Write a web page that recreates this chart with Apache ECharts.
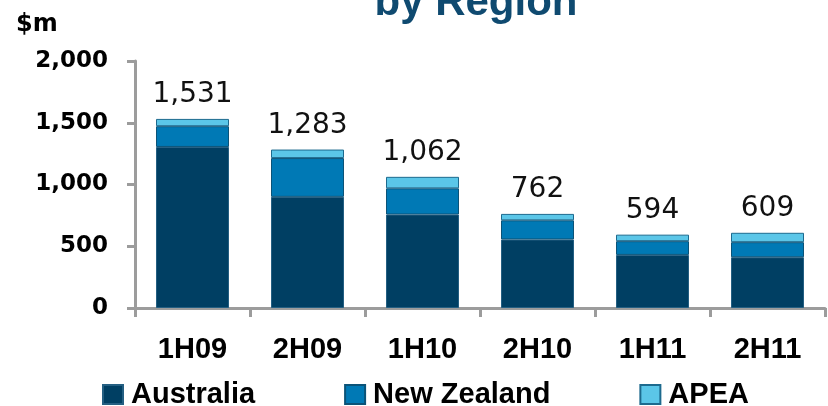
<!DOCTYPE html>
<html>
<head>
<meta charset="utf-8">
<script src="https://cdn.jsdelivr.net/npm/echarts@6/dist/echarts.min.js"></script>
<style>
  html, body { margin: 0; padding: 0; background: #fff; }
  #chart { width: 828px; height: 406px; }
</style>
</head>
<body>
<div id="chart"></div>
<script>
// Half-year periods
const categories = ['1H09', '2H09', '1H10', '2H10', '1H11', '2H11'];

// Values by region, $m
const australia  = [1304, 900, 757, 555, 430, 411];
const newZealand = [168, 314, 212, 155, 111, 122];
const apea       = [59, 69, 93, 52, 53, 76];

// Value axis ticks
const yTicks = [0, 500, 1000, 1500, 2000];

const seriesNames = ['Australia', 'New Zealand', 'APEA'];
const fills   = ['#003f63', '#0079b5', '#5bc6e8'];
const borders = ['#245f82', '#0b5378', '#1d6a8e'];

function withCommas(v) {
  return String(v).replace(/\B(?=(\d{3})+(?!\d))/g, ',');
}

function totalAt(i) {
  return australia[i] + newZealand[i] + apea[i];
}

const chart = echarts.init(document.getElementById('chart'), null, { renderer: 'canvas' });

const datasets = [australia, newZealand, apea];

const series = datasets.map((data, k) => ({
  name: seriesNames[k],
  type: 'bar',
  stack: 'total',
  barWidth: 73,
  data: data,
  itemStyle: { color: fills[k], borderColor: borders[k], borderWidth: 1 },
  emphasis: { disabled: true },
  label: k === datasets.length - 1 ? {
    show: true,
    position: 'top',
    distance: 10,
    fontFamily: 'DejaVu Sans',
    fontSize: 28,
    color: '#111',
    formatter: (p) => withCommas(totalAt(p.dataIndex))
  } : { show: false }
}));

chart.setOption({
  animation: false,
  backgroundColor: '#fff',
  grid: { left: 135, right: 3, top: 61, bottom: 98, containLabel: false },
  legend: {
    data: seriesNames,
    left: 102,
    top: 380,
    padding: 0,
    itemWidth: 20,
    itemHeight: 19,
    itemGap: 89,
    icon: 'rect',
    selectedMode: false,
    textStyle: {
      fontFamily: 'Liberation Sans',
      fontWeight: 'bold',
      fontSize: 29,
      color: '#000',
      padding: [0, 0, 0, 3]
    }
  },
  graphic: [
    {
      type: 'text',
      x: 476,
      y: 3,
      style: {
        text: 'by Region',
        font: 'bold 42px "Liberation Sans"',
        fill: '#0f4a70',
        align: 'center',
        verticalAlign: 'middle'
      }
    },
    {
      type: 'text',
      x: 16,
      y: 25,
      style: {
        text: '$m',
        font: 'bold 24px "DejaVu Sans"',
        fill: '#000',
        align: 'left',
        verticalAlign: 'middle'
      }
    }
  ],
  xAxis: {
    type: 'category',
    data: categories,
    axisLine: { lineStyle: { color: '#9c9c9c', width: 3 } },
    axisTick: { show: true, length: 9, lineStyle: { color: '#9c9c9c', width: 3 } },
    axisLabel: {
      margin: 27,
      fontFamily: 'Liberation Sans',
      fontWeight: 'bold',
      fontSize: 29,
      color: '#000'
    }
  },
  yAxis: {
    type: 'value',
    min: yTicks[0],
    max: yTicks[yTicks.length - 1],
    interval: yTicks[1] - yTicks[0],
    splitLine: { show: false },
    axisLine: { show: true, lineStyle: { color: '#9c9c9c', width: 3 } },
    axisTick: { show: true, length: 8, lineStyle: { color: '#9c9c9c', width: 3 } },
    axisLabel: {
      margin: 27,
      fontFamily: 'DejaVu Sans',
      fontWeight: 'bold',
      fontSize: 23,
      color: '#000',
      formatter: (v) => withCommas(v)
    }
  },
  series: series
});
</script>
</body>
</html>
